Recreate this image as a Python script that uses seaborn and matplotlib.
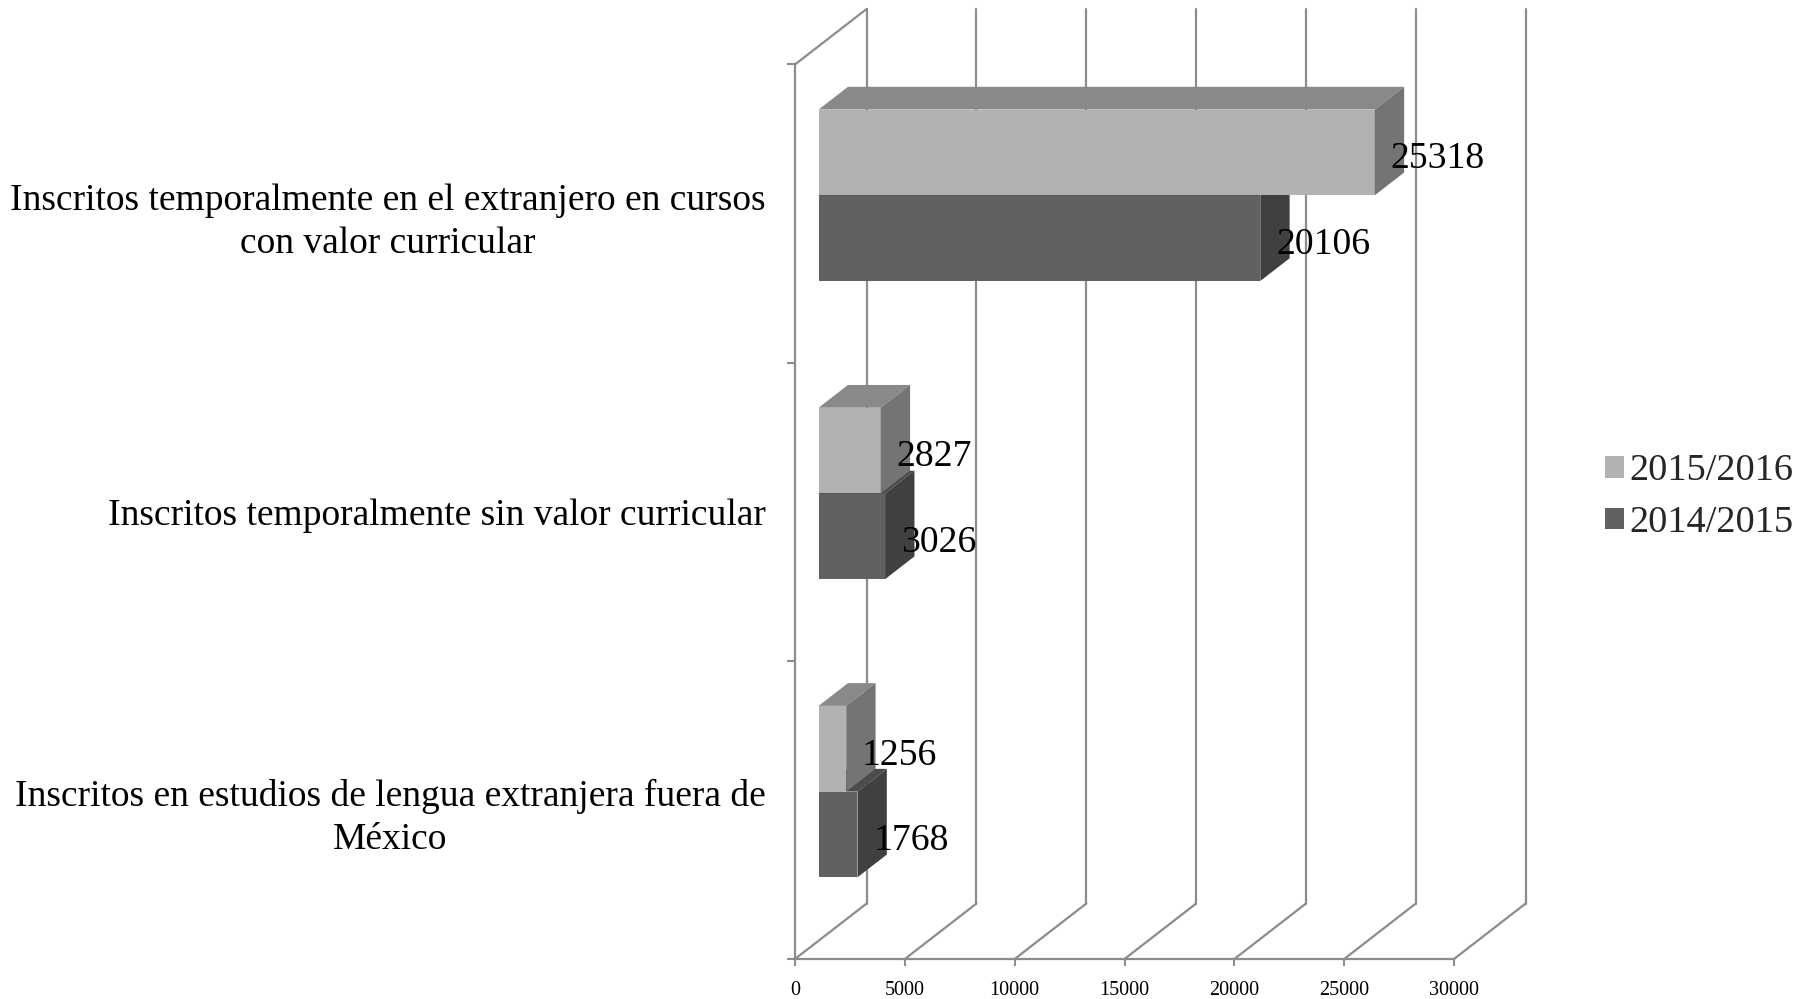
import matplotlib
matplotlib.use("Agg")
import matplotlib.pyplot as plt
import pandas as pd
import seaborn as sns
from matplotlib.patches import Polygon, Patch

# ---------------- data ----------------
categories = [
    "Inscritos temporalmente en el extranjero en cursos\ncon valor curricular",
    "Inscritos temporalmente sin valor curricular",
    "Inscritos en estudios de lengua extranjera fuera de\nMéxico",
]
periods = ["2015/2016", "2014/2015"]
values_2015_2016 = [25318, 2827, 1256]
values_2014_2015 = [20106, 3026, 1768]
x_ticks = [0, 5000, 10000, 15000, 20000, 25000, 30000]

df = pd.DataFrame({
    "categoria": categories * 2,
    "periodo": [periods[0]] * 3 + [periods[1]] * 3,
    "valor": values_2015_2016 + values_2014_2015,
})

# ---------------- style ----------------
sns.set_theme(style="white")
plt.rcParams["font.family"] = ["Liberation Serif", "DejaVu Serif"]

FRONT = {"2015/2016": "#b2b2b2", "2014/2015": "#616161"}
TOP = {"2015/2016": "#898989", "2014/2015": "#4b4b4b"}
SIDE = {"2015/2016": "#747474", "2014/2015": "#404040"}
GRID = "#8c8c8c"
LW = 1.6

fig = plt.figure(figsize=(18.12, 9.99), dpi=100)
ax = fig.add_axes([795 / 1812, 40 / 999, 735 / 1812, 950 / 999])

# projection constants (depth of the 3D box in data units)
PX_PER_UNIT = 659 / 30000
DX = 71.6 / PX_PER_UNIT
DY = 0.186
F_FRONT = 0.33
F_DEPTH = 0.41

sns.barplot(data=df, y="categoria", x="valor", hue="periodo", hue_order=periods,
            order=categories, palette=[FRONT[p] for p in periods], orient="h",
            width=0.575, saturation=1, legend=False, ax=ax, linewidth=0)

ax.set_xlim(0, 30000 * 735 / 659)
ax.set_ylim(2.5, -0.5 - DY)
for s in ax.spines.values():
    s.set_visible(False)

# walls / gridlines
for v in x_ticks:
    ax.plot([v, v + DX], [2.5, 2.5 - DY], color=GRID, lw=LW, clip_on=False, zorder=1)
    ax.plot([v + DX, v + DX], [2.5 - DY, -0.5 - DY], color=GRID, lw=LW, clip_on=False, zorder=1)
ax.plot([0, 0], [2.5, -0.5], color=GRID, lw=LW, clip_on=False, zorder=1)
ax.plot([0, DX], [-0.5, -0.5 - DY], color=GRID, lw=LW, clip_on=False, zorder=1)
ax.plot([0, x_ticks[-1]], [2.5, 2.5], color=GRID, lw=LW, clip_on=False, zorder=1)

# 3D bars
zo = {"2015/2016": 4, "2014/2015": 3}
for period, cont in zip(periods, ax.containers):
    for patch in cont.patches:
        x0 = patch.get_x() + F_FRONT * DX
        y0 = patch.get_y() - F_FRONT * DY
        w = patch.get_width()
        h = patch.get_height()
        patch.set_x(x0)
        patch.set_y(y0)
        patch.set_zorder(zo[period])
        dx = F_DEPTH * DX
        dy = F_DEPTH * DY
        top = Polygon([(x0, y0), (x0 + w, y0), (x0 + w + dx, y0 - dy), (x0 + dx, y0 - dy)],
                      closed=True, facecolor=TOP[period], edgecolor="none", zorder=zo[period])
        side = Polygon([(x0 + w, y0), (x0 + w, y0 + h), (x0 + w + dx, y0 + h - dy), (x0 + w + dx, y0 - dy)],
                       closed=True, facecolor=SIDE[period], edgecolor="none", zorder=zo[period])
        ax.add_patch(top)
        ax.add_patch(side)
        ax.text(x0 + w + 0.22 * DX, y0 + h / 2 + 0.022, f"{int(round(w))}", fontsize=27.2,
                ha="left", va="center", color="black", zorder=6)

# ticks
ax.set_xticks(x_ticks)
ax.set_xticklabels([str(t) for t in x_ticks])
ax.tick_params(axis="x", which="major", length=5, width=1.5, color=GRID, direction="out",
               pad=11, labelsize=14.5, bottom=True, labelcolor="black")
ax.set_yticks([0, 1, 2])
ax.set_yticklabels(categories, fontsize=27, multialignment="center", linespacing=1.32)
ax.set_yticks([-0.5, 0.5, 1.5, 2.5], minor=True)
ax.tick_params(axis="y", which="major", length=0, pad=21, left=True, labelcolor="black")
ax.tick_params(axis="y", which="minor", length=6, width=1.5, color=GRID, direction="out", left=True)
ax.set_xlabel("")
ax.set_ylabel("")

# legend
handles = [Patch(facecolor=FRONT[p], edgecolor="none") for p in periods]
fig.legend(handles, periods, loc="center left", bbox_to_anchor=(1605 / 1812, 1 - 497 / 999),
           frameon=False, fontsize=27.6, handlelength=0.5, handleheight=0.5,
           handletextpad=0.13, labelspacing=0.45, borderpad=0, borderaxespad=0)

fig.savefig("out.png", dpi=100)
